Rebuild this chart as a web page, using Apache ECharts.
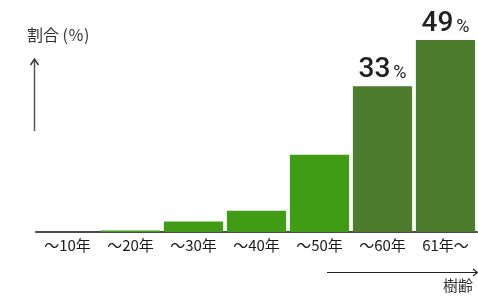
<!DOCTYPE html>
<html>
  <head>
    <meta charset="utf-8" />
    <title>樹齢別割合</title>
    <script src="https://cdn.jsdelivr.net/npm/echarts@6/dist/echarts.min.js"></script>
    <style>
      body { margin: 0; padding: 0; background: #fff; }
      #main { width: 478px; height: 296px; }
    </style>
  </head>
  <body>
    <div id="main"></div>
    <script type="text/javascript">
      // 樹齢の区分
      var categories = ["〜10年", "〜20年", "〜30年", "〜40年", "〜50年", "〜60年", "61年〜"];
      // 棒の高さ
      var values = [0, 0.4, 2.7, 5.4, 19.7, 37.2, 49];
      // 棒の上に出す数値
      var valueLabels = ["", "", "", "", "", "33", "49"];

      var lightGreen = "#3f9c14";
      var darkGreen = "#4c7c2c";

      var myChart = echarts.init(document.getElementById("main"));

      var option = {
        animation: false,
        grid: { left: 36, right: 1, top: 36, bottom: 64 },
        xAxis: {
          type: "category",
          data: categories,
          axisLine: { show: true, lineStyle: { color: "#4a4a4a", width: 2 } },
          axisTick: { show: false },
          axisLabel: {
            color: "#1a1a1a",
            fontSize: 15,
            margin: 6,
            fontFamily: "Noto Sans CJK JP"
          }
        },
        yAxis: {
          type: "value",
          min: 0,
          max: 50,
          show: false
        },
        series: [
          {
            type: "bar",
            barCategoryGap: "6%",
            data: values.map(function (v, i) {
              return {
                value: v,
                itemStyle: { color: i >= 5 ? darkGreen : lightGreen },
                label: {
                  show: valueLabels[i] !== "",
                  position: "top",
                  distance: 2,
                  formatter: "{a|" + valueLabels[i] + "}{b|%}",
                  rich: {
                    a: { fontSize: 28, fontWeight: 500, color: "#222", fontFamily: "Roboto" },
                    b: { fontSize: 18, color: "#222", fontFamily: "Roboto", padding: [7, 0, 0, 3] }
                  }
                }
              };
            })
          }
        ],
        graphic: [
          {
            type: "text",
            left: 27,
            top: 27,
            style: { text: "割合 (％)", fontSize: 16, fill: "#333", fontFamily: "Noto Sans CJK JP" }
          },
          {
            type: "line",
            shape: { x1: 34.5, y1: 131, x2: 34.5, y2: 60 },
            style: { stroke: "#555", lineWidth: 1.5 }
          },
          {
            type: "polyline",
            shape: { points: [[30.5, 65], [34.5, 59], [38.5, 65]] },
            style: { stroke: "#333", lineWidth: 1.5, fill: null }
          },
          {
            type: "line",
            shape: { x1: 327, y1: 272.5, x2: 477, y2: 272.5 },
            style: { stroke: "#222", lineWidth: 1.2 }
          },
          {
            type: "polyline",
            shape: { points: [[473, 269], [477.5, 272.5], [473, 276]] },
            style: { stroke: "#222", lineWidth: 1.2, fill: null }
          },
          {
            type: "text",
            left: 443,
            top: 278,
            style: { text: "樹齢", fontSize: 15, fill: "#333", fontFamily: "Noto Sans CJK JP" }
          }
        ]
      };

      myChart.setOption(option);
    </script>
  </body>
</html>
